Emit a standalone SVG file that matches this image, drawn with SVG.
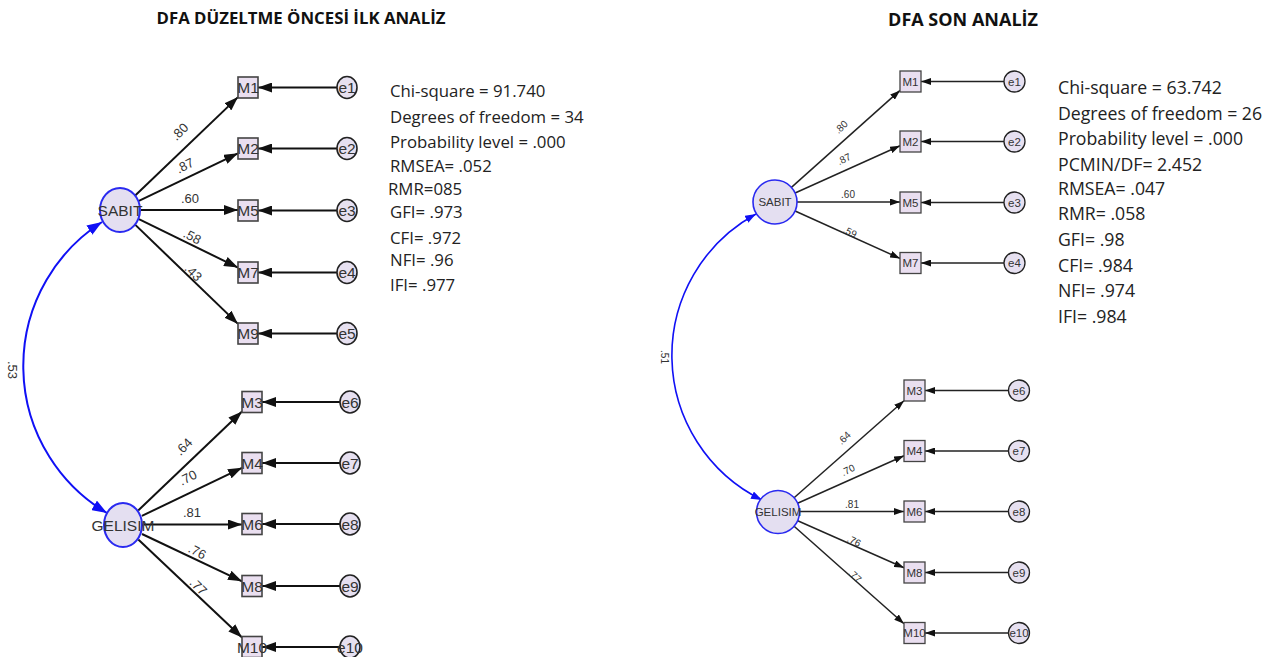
<svg xmlns="http://www.w3.org/2000/svg" width="1281" height="657" viewBox="0 0 1281 657">
  <style>
    .title { font-family: "Open Sans", "Noto Sans", sans-serif; font-weight: 700; fill: #111; text-anchor: middle; }
    .stat { font-family: "Open Sans", "Noto Sans", sans-serif; fill: #222; }
    .lbl { font-family: "Liberation Sans", Arial, sans-serif; fill: #333; text-anchor: middle; }
    .latent { fill: #e4dff1; stroke: #2a2af0; }
    .obs { fill: #eadff0; stroke: #444; }
    .err { fill: #e6e0f0; stroke: #222; }
    .edgeL { stroke: #111; stroke-width: 2; fill: none; }
    .edgeR { stroke: #222; stroke-width: 1.5; fill: none; }
    .cov { stroke: #1010f5; fill: none; }
    .big .lbl { font-size: 15.5px; }
    .small .lbl { font-size: 11.5px; }
    .load { font-family: "Liberation Sans", Arial, sans-serif; fill: #333; text-anchor: middle; }
  </style>
  <defs>
    <marker id="arrL" markerUnits="userSpaceOnUse" markerWidth="14" markerHeight="10" refX="14" refY="5" orient="auto">
      <path d="M0,0 L14,5 L0,10 z" fill="#111"/>
    </marker>
    <marker id="arrR" markerUnits="userSpaceOnUse" markerWidth="10" markerHeight="7" refX="10" refY="3.5" orient="auto">
      <path d="M0,0 L10,3.5 L0,7 z" fill="#111"/>
    </marker>
    <marker id="blueL" markerUnits="userSpaceOnUse" markerWidth="15" markerHeight="11" refX="15" refY="5.5" orient="auto-start-reverse">
      <path d="M0,0 L15,5.5 L0,11 z" fill="#1010f5"/>
    </marker>
    <marker id="blueR" markerUnits="userSpaceOnUse" markerWidth="11" markerHeight="8" refX="11" refY="4" orient="auto-start-reverse">
      <path d="M0,0 L11,4 L0,8 z" fill="#1010f5"/>
    </marker>
  </defs>

  <!-- titles -->
  <text class="title" x="301" y="24" font-size="16.8">DFA DÜZELTME ÖNCESİ İLK ANALİZ</text>
  <text class="title" x="963" y="26" font-size="18">DFA SON ANALİZ</text>

  <!-- ============ first model ============ -->
  <g id="connectors-first">
    <path class="cov" stroke-width="2" d="M102,222 A171,171 0 0 0 107,513" marker-start="url(#blueL)" marker-end="url(#blueL)"/>
    <!-- loadings SABIT -->
    <path class="edgeL" d="M135.2,195.5 L238,97.1" marker-end="url(#arrL)"/>
    <path class="edgeL" d="M138.9,200.9 L238,153.3" marker-end="url(#arrL)"/>
    <path class="edgeL" d="M141,210 L238,210" marker-end="url(#arrL)"/>
    <path class="edgeL" d="M138.9,219.2 L238,267.6" marker-end="url(#arrL)"/>
    <path class="edgeL" d="M135.1,224.6 L238,323.9" marker-end="url(#arrL)"/>
    <!-- loadings GELISIM -->
    <path class="edgeL" d="M138.2,510.5 L242,411.5" marker-end="url(#arrL)"/>
    <path class="edgeL" d="M141.9,515.9 L242,467.8" marker-end="url(#arrL)"/>
    <path class="edgeL" d="M144,524.5 L242,524.5" marker-end="url(#arrL)"/>
    <path class="edgeL" d="M142,534 L242,581.3" marker-end="url(#arrL)"/>
    <path class="edgeL" d="M138.3,539.4 L242,637.5" marker-end="url(#arrL)"/>
    <!-- error terms -->
    <path class="edgeL" d="M337,87.5 L258,87.5" marker-end="url(#arrL)"/>
    <path class="edgeL" d="M337,148.5 L258,148.5" marker-end="url(#arrL)"/>
    <path class="edgeL" d="M337,210.5 L258,210.5" marker-end="url(#arrL)"/>
    <path class="edgeL" d="M337,272.5 L258,272.5" marker-end="url(#arrL)"/>
    <path class="edgeL" d="M337,333.5 L258,333.5" marker-end="url(#arrL)"/>
    <path class="edgeL" d="M340,402 L262,402" marker-end="url(#arrL)"/>
    <path class="edgeL" d="M340,463 L262,463" marker-end="url(#arrL)"/>
    <path class="edgeL" d="M340,524 L262,524" marker-end="url(#arrL)"/>
    <path class="edgeL" d="M340,586 L262,586" marker-end="url(#arrL)"/>
    <path class="edgeL" d="M340,647 L262,647" marker-end="url(#arrL)"/>
    <!-- coefficients -->
    <g class="load" font-size="13">
      <text transform="translate(12,370) rotate(90)" y="4">.53</text>
      <text transform="translate(180,132) rotate(-46)" y="4">.80</text>
      <text transform="translate(185,166) rotate(-27)" y="4">.87</text>
      <text transform="translate(190,199)" y="4">.60</text>
      <text transform="translate(192,237) rotate(27)" y="4">.58</text>
      <text transform="translate(193,273) rotate(46)" y="4">.43</text>
      <text transform="translate(184,447) rotate(-46)" y="4">.64</text>
      <text transform="translate(188,478) rotate(-27)" y="4">.70</text>
      <text transform="translate(192,513)" y="4">.81</text>
      <text transform="translate(197,552) rotate(27)" y="4">.76</text>
      <text transform="translate(198,587) rotate(45)" y="4">.77</text>
    </g>
  </g>

  <g class="big">
    <g id="L-SABIT"><ellipse class="latent" stroke-width="2" cx="120" cy="210" rx="20" ry="22"/><text class="lbl" x="120" y="215.5">SABIT</text></g>
    <g id="L-GELISIM"><ellipse class="latent" stroke-width="2" cx="123" cy="525" rx="19" ry="22"/><text class="lbl" x="123" y="530.5">GELISIM</text></g>

    <g id="L-M1"><rect class="obs" stroke-width="1.6" x="238" y="77" width="20" height="21"/><text class="lbl" x="248" y="93">M1</text></g>
    <g id="L-M2"><rect class="obs" stroke-width="1.6" x="238" y="138" width="20" height="21"/><text class="lbl" x="248" y="154">M2</text></g>
    <g id="L-M5"><rect class="obs" stroke-width="1.6" x="238" y="200" width="20" height="21"/><text class="lbl" x="248" y="216">M5</text></g>
    <g id="L-M7"><rect class="obs" stroke-width="1.6" x="238" y="262" width="20" height="21"/><text class="lbl" x="248" y="278">M7</text></g>
    <g id="L-M9"><rect class="obs" stroke-width="1.6" x="238" y="323" width="20" height="21"/><text class="lbl" x="248" y="339">M9</text></g>
    <g id="L-M3"><rect class="obs" stroke-width="1.6" x="242" y="391.5" width="20" height="21"/><text class="lbl" x="252" y="407.5">M3</text></g>
    <g id="L-M4"><rect class="obs" stroke-width="1.6" x="242" y="452.5" width="20" height="21"/><text class="lbl" x="252" y="468.5">M4</text></g>
    <g id="L-M6"><rect class="obs" stroke-width="1.6" x="242" y="513.5" width="20" height="21"/><text class="lbl" x="252" y="529.5">M6</text></g>
    <g id="L-M8"><rect class="obs" stroke-width="1.6" x="242" y="575.5" width="20" height="21"/><text class="lbl" x="252" y="591.5">M8</text></g>
    <g id="L-M10"><rect class="obs" stroke-width="1.6" x="242" y="636.5" width="20" height="21"/><text class="lbl" x="252" y="652.5">M10</text></g>

    <g id="L-e1"><ellipse class="err" stroke-width="1.6" cx="347" cy="87.5" rx="10" ry="11"/><text class="lbl" x="347" y="93">e1</text></g>
    <g id="L-e2"><ellipse class="err" stroke-width="1.6" cx="347" cy="148.5" rx="10" ry="11"/><text class="lbl" x="347" y="154">e2</text></g>
    <g id="L-e3"><ellipse class="err" stroke-width="1.6" cx="347" cy="210.5" rx="10" ry="11"/><text class="lbl" x="347" y="216">e3</text></g>
    <g id="L-e4"><ellipse class="err" stroke-width="1.6" cx="347" cy="272.5" rx="10" ry="11"/><text class="lbl" x="347" y="278">e4</text></g>
    <g id="L-e5"><ellipse class="err" stroke-width="1.6" cx="347" cy="333.5" rx="10" ry="11"/><text class="lbl" x="347" y="339">e5</text></g>
    <g id="L-e6"><ellipse class="err" stroke-width="1.6" cx="350" cy="402" rx="10" ry="11"/><text class="lbl" x="350" y="407.5">e6</text></g>
    <g id="L-e7"><ellipse class="err" stroke-width="1.6" cx="350" cy="463" rx="10" ry="11"/><text class="lbl" x="350" y="468.5">e7</text></g>
    <g id="L-e8"><ellipse class="err" stroke-width="1.6" cx="350" cy="524" rx="10" ry="11"/><text class="lbl" x="350" y="529.5">e8</text></g>
    <g id="L-e9"><ellipse class="err" stroke-width="1.6" cx="350" cy="586" rx="10" ry="11"/><text class="lbl" x="350" y="591.5">e9</text></g>
    <g id="L-e10"><ellipse class="err" stroke-width="1.6" cx="350" cy="647" rx="10" ry="11"/><text class="lbl" x="350" y="652.5">e10</text></g>
  </g>

  <g id="L-fit" class="stat" font-size="16.8">
    <text x="390" y="97">Chi-square = 91.740</text>
    <text x="390" y="123">Degrees of freedom = 34</text>
    <text x="390" y="148">Probability level = .000</text>
    <text x="390" y="172">RMSEA= .052</text>
    <text x="388" y="194.5">RMR=085</text>
    <text x="390" y="218">GFI= .973</text>
    <text x="390" y="243.5">CFI= .972</text>
    <text x="390" y="266">NFI= .96</text>
    <text x="390" y="290.5">IFI= .977</text>
  </g>

  <!-- ============ second model ============ -->
  <g id="connectors-second">
    <path class="cov" stroke-width="1.6" d="M756,214 A161,161 0 0 0 762,500" marker-start="url(#blueR)" marker-end="url(#blueR)"/>
    <path class="edgeR" d="M791.4,187.4 L900,90.4" marker-end="url(#arrR)"/>
    <path class="edgeR" d="M795.1,193 L900,145.8" marker-end="url(#arrR)"/>
    <path class="edgeR" d="M797,202 L900,202" marker-end="url(#arrR)"/>
    <path class="edgeR" d="M795.1,211 L900,258.4" marker-end="url(#arrR)"/>
    <path class="edgeR" d="M794.1,497.7 L904,400.7" marker-end="url(#arrR)"/>
    <path class="edgeR" d="M797.6,503.2 L904,455.7" marker-end="url(#arrR)"/>
    <path class="edgeR" d="M799.5,511.5 L904,511.5" marker-end="url(#arrR)"/>
    <path class="edgeR" d="M797.7,520.7 L904,567.8" marker-end="url(#arrR)"/>
    <path class="edgeR" d="M794.1,526.3 L904,623.7" marker-end="url(#arrR)"/>
    <path class="edgeR" d="M1004,81.5 L921,81.5" marker-end="url(#arrR)"/>
    <path class="edgeR" d="M1004,141.5 L921,141.5" marker-end="url(#arrR)"/>
    <path class="edgeR" d="M1004,202.5 L921,202.5" marker-end="url(#arrR)"/>
    <path class="edgeR" d="M1004,263 L921,263" marker-end="url(#arrR)"/>
    <path class="edgeR" d="M1008.5,390.5 L925,390.5" marker-end="url(#arrR)"/>
    <path class="edgeR" d="M1008.5,451 L925,451" marker-end="url(#arrR)"/>
    <path class="edgeR" d="M1008.5,511.5 L925,511.5" marker-end="url(#arrR)"/>
    <path class="edgeR" d="M1008.5,572.5 L925,572.5" marker-end="url(#arrR)"/>
    <path class="edgeR" d="M1008.5,633 L925,633" marker-end="url(#arrR)"/>
    <g class="load" font-size="10">
      <text transform="translate(664,357) rotate(90)" y="3.5">.51</text>
      <text transform="translate(841,127) rotate(-44)" y="3.5">.80</text>
      <text transform="translate(844,159) rotate(-26)" y="3.5">.87</text>
      <text transform="translate(848,194)" y="3.5">.60</text>
      <text transform="translate(850,232) rotate(26)" y="3.5">.59</text>
      <text transform="translate(844,438) rotate(-44)" y="3.5">.64</text>
      <text transform="translate(848,470) rotate(-26)" y="3.5">.70</text>
      <text transform="translate(852,504)" y="3.5">.81</text>
      <text transform="translate(854,541) rotate(26)" y="3.5">.76</text>
      <text transform="translate(855,576) rotate(44)" y="3.5">.77</text>
    </g>
  </g>

  <g class="small">
    <g id="R-SABIT"><circle class="latent" stroke-width="1.6" cx="775" cy="202" r="22"/><text class="lbl" x="775" y="206">SABIT</text></g>
    <g id="R-GELISIM"><circle class="latent" stroke-width="1.6" cx="778" cy="512" r="21.5"/><text class="lbl" x="778" y="516">GELISIM</text></g>

    <g id="R-M1"><rect class="obs" stroke-width="1.3" x="900" y="71" width="21" height="21"/><text class="lbl" x="910.5" y="85.5">M1</text></g>
    <g id="R-M2"><rect class="obs" stroke-width="1.3" x="900" y="131" width="21" height="21"/><text class="lbl" x="910.5" y="145.5">M2</text></g>
    <g id="R-M5"><rect class="obs" stroke-width="1.3" x="900" y="192" width="21" height="21"/><text class="lbl" x="910.5" y="206.5">M5</text></g>
    <g id="R-M7"><rect class="obs" stroke-width="1.3" x="900" y="252.5" width="21" height="21"/><text class="lbl" x="910.5" y="267">M7</text></g>
    <g id="R-M3"><rect class="obs" stroke-width="1.3" x="904" y="380" width="21" height="21"/><text class="lbl" x="914.5" y="394.5">M3</text></g>
    <g id="R-M4"><rect class="obs" stroke-width="1.3" x="904" y="440.5" width="21" height="21"/><text class="lbl" x="914.5" y="455">M4</text></g>
    <g id="R-M6"><rect class="obs" stroke-width="1.3" x="904" y="501" width="21" height="21"/><text class="lbl" x="914.5" y="515.5">M6</text></g>
    <g id="R-M8"><rect class="obs" stroke-width="1.3" x="904" y="562" width="21" height="21"/><text class="lbl" x="914.5" y="576.5">M8</text></g>
    <g id="R-M10"><rect class="obs" stroke-width="1.3" x="904" y="622.5" width="21" height="21"/><text class="lbl" x="914.5" y="637">M10</text></g>

    <g id="R-e1"><circle class="err" stroke-width="1.3" cx="1014.5" cy="81.5" r="10.5"/><text class="lbl" x="1014.5" y="85.5">e1</text></g>
    <g id="R-e2"><circle class="err" stroke-width="1.3" cx="1014.5" cy="141.5" r="10.5"/><text class="lbl" x="1014.5" y="145.5">e2</text></g>
    <g id="R-e3"><circle class="err" stroke-width="1.3" cx="1014.5" cy="202.5" r="10.5"/><text class="lbl" x="1014.5" y="206.5">e3</text></g>
    <g id="R-e4"><circle class="err" stroke-width="1.3" cx="1014.5" cy="263" r="10.5"/><text class="lbl" x="1014.5" y="267">e4</text></g>
    <g id="R-e6"><circle class="err" stroke-width="1.3" cx="1019" cy="390.5" r="10.5"/><text class="lbl" x="1019" y="394.5">e6</text></g>
    <g id="R-e7"><circle class="err" stroke-width="1.3" cx="1019" cy="451" r="10.5"/><text class="lbl" x="1019" y="455">e7</text></g>
    <g id="R-e8"><circle class="err" stroke-width="1.3" cx="1019" cy="511.5" r="10.5"/><text class="lbl" x="1019" y="515.5">e8</text></g>
    <g id="R-e9"><circle class="err" stroke-width="1.3" cx="1019" cy="572.5" r="10.5"/><text class="lbl" x="1019" y="576.5">e9</text></g>
    <g id="R-e10"><circle class="err" stroke-width="1.3" cx="1019" cy="633" r="10.5"/><text class="lbl" x="1019" y="637">e10</text></g>
  </g>

  <g id="R-fit" class="stat" font-size="17.7">
    <text x="1058" y="94">Chi-square = 63.742</text>
    <text x="1058" y="120">Degrees of freedom = 26</text>
    <text x="1058" y="144.5">Probability level = .000</text>
    <text x="1058" y="171">PCMIN/DF= 2.452</text>
    <text x="1058" y="195">RMSEA= .047</text>
    <text x="1058" y="220">RMR= .058</text>
    <text x="1058" y="246">GFI= .98</text>
    <text x="1058" y="272">CFI= .984</text>
    <text x="1058" y="297">NFI= .974</text>
    <text x="1058" y="323">IFI= .984</text>
  </g>
</svg>
